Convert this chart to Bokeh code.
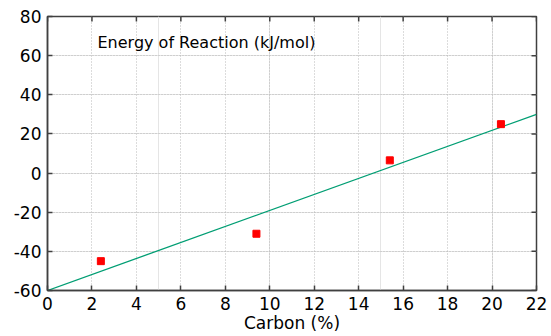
import math
from bokeh.plotting import figure
from bokeh.models import LinearAxis, Label, FixedTicker, Range1d, Grid
from bokeh.embed import file_html
from bokeh.resources import INLINE

# data
carbon = [2.4, 9.4, 15.4, 20.4]
energy = [-45, -31, 6.5, 25]
fit_x = [0, 22]
fit_y = [-60, 30]
x_ticks = [0, 2, 4, 6, 8, 10, 12, 14, 16, 18, 20, 22]
y_ticks = [-60, -40, -20, 0, 20, 40, 60, 80]
y_tick_labels = ["-60", "-40", "-20", "0", "20", "40", "60", "80"]
title_text = "Energy of Reaction (kJ/mol)"
x_label = "Carbon (%)"

FONT = "DejaVu Sans"
AX = "#404040"
X_MIN, X_MAX = 0, 22
Y_MIN, Y_MAX = -60, 80

p = figure(width=551, height=336, output_backend="svg", toolbar_location=None,
           x_range=Range1d(X_MIN, X_MAX), y_range=Range1d(Y_MIN, Y_MAX),
           min_border_left=47, min_border_right=15, min_border_top=16,
           min_border_bottom=46, x_axis_location=None, y_axis_location=None)
p.background_fill_color = "white"
p.border_fill_color = "white"
p.outline_line_color = AX
p.outline_line_width = 1.5

xb = LinearAxis(ticker=FixedTicker(ticks=x_ticks), axis_label=x_label)
yl = LinearAxis(ticker=FixedTicker(ticks=y_ticks),
                major_label_overrides={t: s for t, s in zip(y_ticks, y_tick_labels)})
for ax in (xb, yl):
    ax.major_tick_in = 5
    ax.major_tick_out = 0
    ax.minor_tick_line_color = None
    ax.major_tick_line_color = AX
    ax.major_tick_line_width = 1.5
    ax.axis_line_color = AX
    ax.axis_line_width = 1.5
    ax.major_label_text_font = FONT
    ax.major_label_text_font_size = "17px"
    ax.major_label_text_color = "black"
xb.major_label_standoff = 6
yl.major_label_standoff = 6
xb.axis_label_text_font = FONT
xb.axis_label_text_font_size = "17px"
xb.axis_label_text_font_style = "normal"
xb.axis_label_standoff = 0
xb.axis_label_text_color = "black"

p.add_layout(xb, "below")
p.add_layout(yl, "left")

gx = Grid(dimension=0, ticker=FixedTicker(ticks=x_ticks), grid_line_color="#b8b8b8",
          grid_line_dash="1 2", grid_line_width=1)
gy = Grid(dimension=1, ticker=FixedTicker(ticks=y_ticks), grid_line_color="#b8b8b8",
          grid_line_dash="1 2", grid_line_width=1)
p.add_layout(gx)
p.add_layout(gy)

# mirrored inward ticks on the top and right frame edges (clipped to the frame)
p.scatter(x_ticks, [Y_MAX] * len(x_ticks), marker="dash", size=10, angle=math.pi / 2,
          line_color=AX, line_width=1.5)
p.scatter([X_MAX] * len(y_ticks), y_ticks, marker="dash", size=10,
          line_color=AX, line_width=1.5)

p.line(fit_x, fit_y, line_color="#009e73", line_width=1.3)
p.scatter(carbon, energy, marker="square", size=7, fill_color="#ff0000",
          line_color="#ff0000")

p.add_layout(Label(x=2.25, y=66.7, text=title_text, text_font=FONT,
                   text_font_size="16px", text_color="black",
                   text_baseline="alphabetic"))

open("out.html", "w").write(file_html(p, INLINE))
